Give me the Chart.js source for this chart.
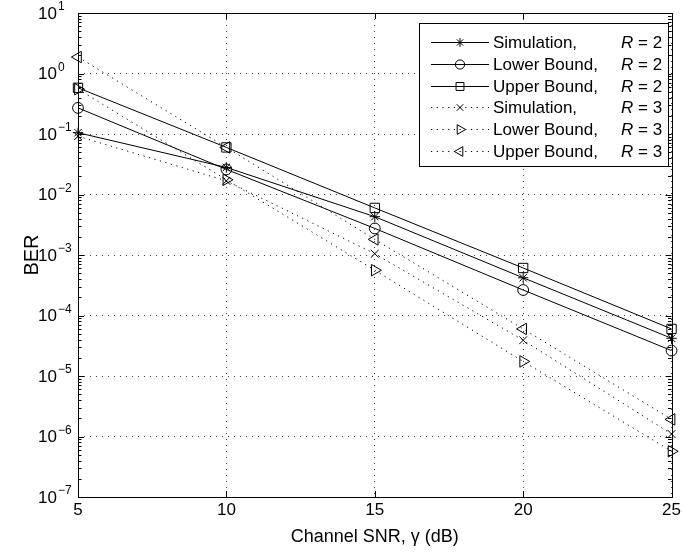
<!DOCTYPE html>
<html>
<head>
<meta charset="utf-8">
<script src="https://cdn.jsdelivr.net/npm/chart.js@4.4.0/dist/chart.umd.min.js"></script>
<style>
  html, body { margin: 0; padding: 0; background: #fff; }
  #wrap { width: 684px; height: 554px; }
</style>
</head>
<body>
<div id="wrap"><canvas id="chart" width="684" height="554"></canvas></div>
<script>
const FONT = "'Liberation Sans', Arial, Helvetica, sans-serif";

// channel SNR (dB)
const snr = [5, 10, 15, 20, 25];

// BER values
const simR2   = [0.105, 0.028, 0.0043, 4.2e-4, 4.2e-5];
const lowerR2 = [0.27, 0.026, 0.00275, 2.64e-4, 2.63e-5];
const upperR2 = [0.58, 0.06, 0.006, 6.1e-4, 6.0e-5];
const simR3   = [0.092, 0.0168, 0.00105, 3.9e-5, 1.1e-6];
const lowerR3 = [0.55, 0.0175, 5.6e-4, 1.74e-5, 5.7e-7];
const upperR3 = [1.87, 0.06, 0.00181, 6.0e-5, 1.92e-6];

// axis ticks
const xTicks = [5, 10, 15, 20, 25];
const yExponents = [-7, -6, -5, -4, -3, -2, -1, 0, 1];

// legend text
const legendNames = ['Simulation,', 'Lower Bound,', 'Upper Bound,', 'Simulation,', 'Lower Bound,', 'Upper Bound,'];
const legendR = ['2', '2', '2', '3', '3', '3'];

const DOTS = [1.2, 4.5];

function series(label, data, style, rot, radius, dotted) {
  return {
    label: label,
    data: snr.map((x, i) => ({ x: x, y: data[i] })),
    borderColor: '#000',
    borderWidth: 1,
    borderDash: dotted ? DOTS : [],
    pointStyle: style,
    pointRotation: rot,
    pointRadius: radius,
    pointBorderColor: '#000',
    pointBackgroundColor: 'rgba(0,0,0,0)',
    pointBorderWidth: 1,
    tension: 0,
    clip: false
  };
}

const datasets = [
  series('Simulation, R = 2', simR2, 'star', 0, 5.2, false),
  series('Lower Bound, R = 2', lowerR2, 'circle', 0, 5.4, false),
  series('Upper Bound, R = 2', upperR2, 'rect', 0, 6.6, false),
  series('Simulation, R = 3', simR3, 'crossRot', 0, 5.5, true),
  series('Lower Bound, R = 3', lowerR3, 'triangle', 90, 6.6, true),
  series('Upper Bound, R = 3', upperR3, 'triangle', -90, 6.6, true)
];

// box, inward ticks, superscript y labels and the legend
const matlabAxes = {
  id: 'matlabAxes',
  beforeDatasetsDraw(chart) {
    const { ctx, chartArea: a, scales } = chart;
    const xs = scales.x, ys = scales.y;
    ctx.save();
    ctx.strokeStyle = '#000';
    ctx.lineWidth = 1;
    ctx.setLineDash([]);
    ctx.beginPath();
    // x ticks top and bottom
    xTicks.forEach(v => {
      const px = Math.round(xs.getPixelForValue(v)) + 0.5;
      ctx.moveTo(px, a.bottom); ctx.lineTo(px, a.bottom - 6);
      ctx.moveTo(px, a.top); ctx.lineTo(px, a.top + 6);
    });
    // y major and minor ticks left and right
    yExponents.forEach(n => {
      for (let m = 1; m <= 9; m++) {
        const v = m * Math.pow(10, n);
        if (n === 1 && m > 1) continue;
        const py = Math.round(ys.getPixelForValue(v)) + 0.5;
        const len = m === 1 ? 6 : 3.5;
        ctx.moveTo(a.left, py); ctx.lineTo(a.left + len, py);
        ctx.moveTo(a.right, py); ctx.lineTo(a.right - len, py);
      }
    });
    ctx.stroke();
    ctx.strokeRect(Math.round(a.left) + 0.5, Math.round(a.top) + 0.5,
      Math.round(a.right - a.left), Math.round(a.bottom - a.top));

    // y tick labels 10^n
    ctx.fillStyle = '#000';
    yExponents.forEach(n => {
      const py = ys.getPixelForValue(Math.pow(10, n));
      ctx.font = '17px ' + FONT;
      ctx.textAlign = 'right';
      ctx.textBaseline = 'middle';
      ctx.fillText('10', 57, py + 1);
      ctx.font = '12px ' + FONT;
      ctx.textAlign = 'left';
      ctx.textBaseline = 'alphabetic';
      ctx.fillText(n < 0 ? '\u2212' + (-n) : String(n), 58, py - 3);
    });
    ctx.restore();
  },
  afterDraw(chart) {
    const { ctx } = chart;
    const box = { left: 419, top: 23, right: 668, bottom: 166 };
    ctx.save();
    ctx.fillStyle = '#fff';
    ctx.fillRect(box.left, box.top, box.right - box.left, box.bottom - box.top);
    ctx.strokeStyle = '#000';
    ctx.lineWidth = 1;
    ctx.strokeRect(box.left + 0.5, box.top + 0.5, box.right - box.left, box.bottom - box.top);
    chart.data.datasets.forEach((ds, i) => {
      const y = Math.round(box.top + 19 + i * 21.8) + 0.5;
      ctx.strokeStyle = '#000';
      ctx.lineWidth = 1;
      ctx.setLineDash(ds.borderDash);
      ctx.beginPath();
      ctx.moveTo(431, y); ctx.lineTo(489, y);
      ctx.stroke();
      ctx.setLineDash([]);
      ctx.fillStyle = 'rgba(0,0,0,0)';
      Chart.helpers.drawPoint(ctx, {
        pointStyle: ds.pointStyle, rotation: ds.pointRotation,
        radius: ds.pointRadius * 0.85, borderWidth: 1
      }, 460, y);
      ctx.fillStyle = '#000';
      ctx.textAlign = 'left';
      ctx.textBaseline = 'middle';
      ctx.font = '17px ' + FONT;
      ctx.fillText(legendNames[i], 493, y + 1);
      ctx.font = 'italic 17px ' + FONT;
      ctx.fillText('R', 621, y + 1);
      const rw = ctx.measureText('R').width;
      ctx.font = '17px ' + FONT;
      ctx.fillText(' = ' + legendR[i], 621 + rw, y + 1);
    });
    ctx.restore();
  }
};

new Chart(document.getElementById('chart'), {
  type: 'line',
  data: { datasets: datasets },
  options: {
    responsive: false,
    animation: false,
    layout: { padding: { top: 13, right: 11, left: 0, bottom: 0 } },
    plugins: { legend: { display: false }, tooltip: { enabled: false } },
    scales: {
      x: {
        type: 'linear',
        min: 5, max: 25,
        afterBuildTicks: s => { s.ticks = xTicks.map(v => ({ value: v })); },
        afterFit: s => { s.height = 57; },
        grid: { color: '#444', lineWidth: 1, drawTicks: false },
        border: { display: false, dash: [1, 5] },
        ticks: { color: '#000', font: { family: FONT, size: 17 }, padding: 3, maxRotation: 0 },
        title: {
          display: true, text: 'Channel SNR, \u03b3 (dB)', color: '#000',
          font: { family: FONT, size: 18, weight: 'normal' }, padding: { top: 0, bottom: 6 }
        }
      },
      y: {
        type: 'logarithmic',
        min: 1e-7, max: 10,
        afterBuildTicks: s => { s.ticks = yExponents.map(n => ({ value: Math.pow(10, n) })); },
        afterFit: s => { s.width = 78; },
        grid: { color: '#444', lineWidth: 1, drawTicks: false },
        border: { display: false, dash: [1, 5] },
        ticks: { display: false },
        title: {
          display: true, text: 'BER', color: '#000',
          font: { family: FONT, size: 20, weight: 'normal' }, padding: { top: 20, bottom: 0 }
        }
      }
    }
  },
  plugins: [matlabAxes]
});
</script>
</body>
</html>
